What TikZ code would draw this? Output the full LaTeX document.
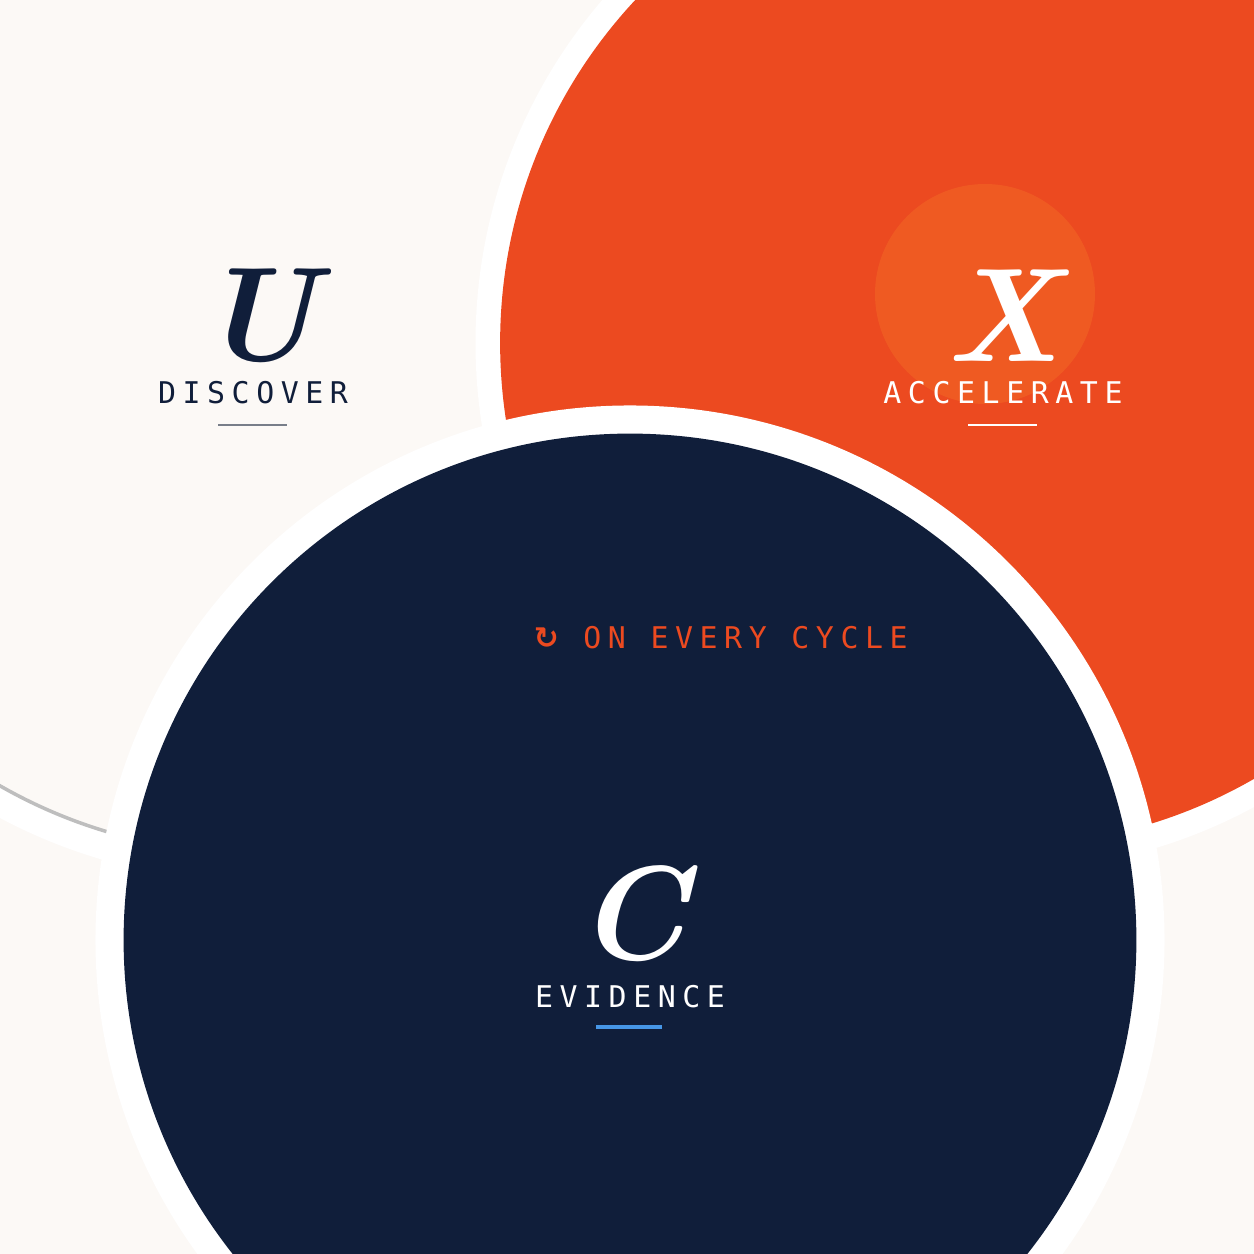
\documentclass[tikz,border=0pt]{standalone}
\usepackage{fontspec}
\usetikzlibrary{arrows.meta,calc}
\newfontfamily\monof{DejaVu Sans Mono}[LetterSpace=22]
\newfontfamily\symf{DejaVu Sans}
\definecolor{paper}{RGB}{252,249,246}
\definecolor{loopnavy}{RGB}{16,30,58}
\definecolor{loopred}{RGB}{236,74,32}
\definecolor{looporange}{RGB}{246,120,40}
\definecolor{ringgray}{RGB}{190,190,190}
\definecolor{glowblue}{RGB}{90,140,225}
\definecolor{underblue}{RGB}{70,150,230}

\tikzset{
  stage/.style={circle, minimum size=#1, inner sep=0pt},
  letter/.style={font=\fontsize{38}{40}\selectfont\bfseries\itshape},
  tag/.style={font=\monof\fontsize{8.5}{10}\selectfont},
  dots/.style={line width=1.4pt, line cap=round, dash pattern=on 0pt off 5pt},
  knot/.style={circle, inner sep=0pt, minimum size=5.5pt}
}

\begin{document}
\begin{tikzpicture}[x=0.01cm, y=0.01cm]
    \useasboundingbox (0,0) rectangle (1254,1254);
    \fill[paper] (0,0) rectangle (1254,1254);

    % Title
    \node[tag, loopred, anchor=west, font=\monof\fontsize{13}{15}\selectfont] (title) at (52,1187) {U · X · C · LOOP};

    % Glows
    \foreach \k in {1,...,8} {
      \fill[glowblue, opacity=0.025] (243,895) circle (150+6*\k);
      \fill[looporange, opacity=0.035] (1003,905) circle (145+7*\k);
      \fill[loopnavy, opacity=0.02] (630,300) circle (148+6*\k);
    }

    % Dotted halos
    \foreach \rr/\c in {178/glowblue!70, 190/glowblue!55, 202/glowblue!40} {
      \draw[dots, \c] (253,911) ++(100:\rr) arc[start angle=100, end angle=245, radius=\rr];
      \draw[dots, \c] (630,314) ++(190:\rr) arc[start angle=190, end angle=330, radius=\rr];
    }
    \foreach \rr/\c in {172/loopred!70, 184/loopred!55, 196/loopred!40} {
      \draw[dots, \c] (1003,911) ++(75:\rr) arc[start angle=75, end angle=-40, radius=\rr];
    }

    % Loop arcs
    \foreach \i in {0,...,23} {
      \pgfmathsetmacro\p{100*\i/23}
      \pgfmathsetmacro\a{128-\i*(128-58)/24}
      \pgfmathsetmacro\b{128-(\i+1)*(128-58)/24}
      \draw[line width=2.2pt, loopred!\p!looporange!60!paper] (630,679) ++(\a:385) arc[start angle=\a, end angle=\b, radius=385];
    }
    \foreach \i in {0,...,23} {
      \pgfmathsetmacro\p{100*\i/23}
      \pgfmathsetmacro\a{12.5-\i*(12.5+68)/24}
      \pgfmathsetmacro\b{12.5-(\i+1)*(12.5+68)/24}
      \draw[line width=2.2pt, loopnavy!\p!loopred] (630,679) ++(\a:385) arc[start angle=\a, end angle=\b, radius=385];
    }
    \foreach \i in {0,...,23} {
      \pgfmathsetmacro\p{100*\i/23}
      \pgfmathsetmacro\a{-112-\i*(-112+190)/24}
      \pgfmathsetmacro\b{-112-(\i+1)*(-112+190)/24}
      \draw[line width=2.2pt, loopnavy!\p!ringgray] (630,679) ++(\a:385) arc[start angle=\a, end angle=\b, radius=385];
    }
    \draw[line width=2.2pt, loopred, -{Latex[length=22pt, width=18pt]}] (630,679) ++(58:385) arc[start angle=58, end angle=55, radius=385];
    \draw[line width=2.2pt, loopnavy, -{Latex[length=22pt, width=18pt]}] (630,679) ++(170:385) arc[start angle=170, end angle=174, radius=385];

    % Knots on the loop
    \node[knot, fill=looporange] (k1) at ($(630,679)+(92:386)$) {};
    \node[knot, fill=loopred!70!loopnavy] (k2) at ($(630,679)+(-31:386)$) {};
    \node[knot, fill=loopnavy] (k3) at ($(630,679)+(-148:386)$) {};

    % Stages
    \node[stage=306, fill=white] (uring) at (253,911) {};
    \node[stage=290, fill=paper, draw=ringgray, line width=1pt] (u) at (253,911) {};
    \node[stage=300, fill=white] (xring) at (1003,911) {};
    \node[stage=286, fill=loopred] (x) at (1003,911) {};
    \fill[looporange, opacity=0.35] (985,960) circle (110);
    \node[stage=304, fill=white] (cring) at (630,314) {};
    \node[stage=288, fill=loopnavy] (c) at (630,314) {};

    % Letters and tags
    \node[letter, loopnavy] (uL) at (258,938) {U};
    \node[tag, loopnavy] (uT) at (253,861) {DISCOVER};
    \draw[ringgray!60!loopnavy, line width=0.8pt] (218,829) -- (287,829);

    \node[letter, white] (xL) at (1003,938) {X};
    \node[tag, white] (xT) at (1003,861) {ACCELERATE};
    \draw[white, line width=0.8pt] (968,829) -- (1037,829);

    \node[letter, white] (cL) at (632,340) {C};
    \node[tag, white] (cT) at (630,257) {EVIDENCE};
    \draw[underblue, line width=1pt] (596,227) -- (662,227);

    % Center caption
    \node[tag, loopnavy] (cap1) at (638,658) {USER · EXPERIENCE ·};
    \node[tag, anchor=center] (cap2) at (638,616) {\textcolor{loopnavy}{CHANGE} \textcolor{loopred}{{\symf\bfseries ↻}} \textcolor{loopred}{ON EVERY CYCLE}};
\end{tikzpicture}
\end{document}
